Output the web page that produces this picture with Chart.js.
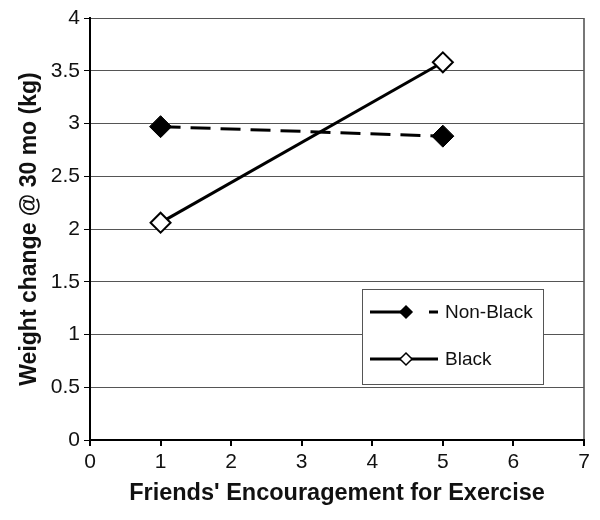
<!DOCTYPE html>
<html>
<head>
<meta charset="utf-8">
<script src="https://cdn.jsdelivr.net/npm/chart.js@4/dist/chart.umd.min.js"></script>
<style>
  html, body { margin: 0; padding: 0; background: #fff; }
  #wrap { width: 600px; height: 520px; }
</style>
</head>
<body>
<div id="wrap"><canvas id="chart" width="600" height="520"></canvas></div>
<script>
// values
const xValues = [1, 5];
const nonBlack = [2.97, 2.88];
const black = [2.06, 3.58];
const seriesLabels = ['Non-Black', 'Black'];
const xTitle = "Friends' Encouragement for Exercise";
const yTitle = 'Weight change @ 30 mo (kg)';

const FONT = '"Liberation Sans", Arial, sans-serif';

// legend box drawn inside the plot, like the original
const insideLegend = {
    id: 'insideLegend',
    afterDatasetsDraw(chart) {
        const ctx = chart.ctx;
        const bx = 362, by = 289, bw = 181, bh = 95;
        ctx.save();
        ctx.fillStyle = '#fff';
        ctx.fillRect(bx, by, bw, bh);
        ctx.strokeStyle = '#555';
        ctx.lineWidth = 1;
        ctx.strokeRect(bx + 0.5, by + 0.5, bw, bh);
        chart.data.datasets.forEach((ds, i) => {
            const y = 312 + i * 47;
            ctx.strokeStyle = '#000';
            ctx.lineWidth = 3;
            ctx.setLineDash(i === 0 ? [40, 19, 9, 10] : []);
            ctx.beginPath();
            ctx.moveTo(370, y);
            ctx.lineTo(438, y);
            ctx.stroke();
            ctx.setLineDash([]);
            const r = 6;
            ctx.beginPath();
            ctx.moveTo(406, y - r);
            ctx.lineTo(406 + r, y);
            ctx.lineTo(406, y + r);
            ctx.lineTo(406 - r, y);
            ctx.closePath();
            ctx.fillStyle = ds.pointBackgroundColor;
            ctx.fill();
            ctx.lineWidth = 1.5;
            ctx.stroke();
            ctx.fillStyle = '#111';
            ctx.font = '19px ' + FONT;
            ctx.textBaseline = 'middle';
            ctx.fillText(ds.label, 445, y + 1);
        });
        ctx.restore();
    }
};

new Chart(document.getElementById('chart'), {
    type: 'line',
    data: {
        datasets: [
            {
                label: seriesLabels[0],
                data: xValues.map((x, i) => ({ x: x, y: nonBlack[i] })),
                borderColor: '#000',
                borderWidth: 3,
                borderDash: [20, 10],
                pointStyle: 'rectRot',
                pointRadius: 11,
                pointBackgroundColor: '#000',
                pointBorderColor: '#000',
                pointBorderWidth: 1,
            },
            {
                label: seriesLabels[1],
                data: xValues.map((x, i) => ({ x: x, y: black[i] })),
                borderColor: '#000',
                borderWidth: 3,
                pointStyle: 'rectRot',
                pointRadius: 10,
                pointBackgroundColor: '#fff',
                pointBorderColor: '#000',
                pointBorderWidth: 2,
            },
        ],
    },
    options: {
        responsive: false,
        animation: false,
        layout: { padding: { left: 12, right: 16, top: 18, bottom: 8 } },
        plugins: { legend: { display: false }, tooltip: { enabled: false } },
        scales: {
            x: {
                type: 'linear',
                min: 0, max: 7,
                ticks: { stepSize: 1, color: '#111', font: { family: FONT, size: 21 }, padding: 4 },
                grid: {
                    color: (c) => (c.tick && c.tick.value === 7 ? '#777' : 'rgba(0,0,0,0)'),
                    tickColor: '#000',
                    tickLength: 6,
                    lineWidth: 2,
                },
                border: { color: '#000', width: 2 },
                title: { display: true, text: xTitle, color: '#111', font: { family: FONT, size: 23.5, weight: 'bold' }, padding: { top: 10 } },
                afterFit: (s) => { s.height = 72; },
            },
            y: {
                min: 0, max: 4,
                ticks: {
                    stepSize: 0.5, color: '#111', font: { family: FONT, size: 21 }, padding: 4,
                    callback: (v) => String(v),
                },
                grid: { color: '#555', lineWidth: 1, tickColor: '#000', tickLength: 6 },
                border: { color: '#000', width: 2 },
                title: { display: true, text: yTitle, color: '#111', font: { family: FONT, size: 23, weight: 'bold' }, padding: { bottom: 2 } },
                afterFit: (s) => { s.width = 78; },
            },
        },
    },
    plugins: [insideLegend],
});
</script>
</body>
</html>
